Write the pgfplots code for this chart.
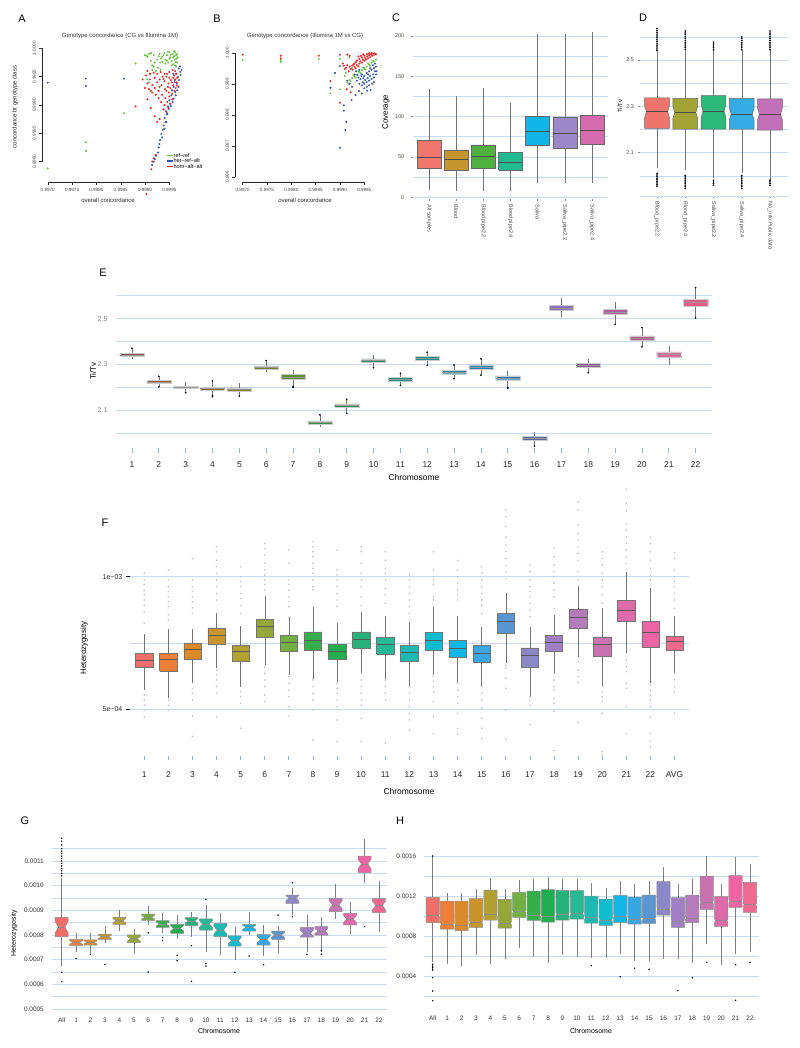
\documentclass[border=0pt]{standalone}
\usepackage{fontspec}
\setmainfont{Liberation Sans}
\usepackage{pgfplots}
\pgfplotsset{compat=1.18}
\newcommand\fs[1]{\fontsize{#1}{#1}\selectfont}
% ---------- colours ----------
\definecolor{gridc}{HTML}{C9DBEF}
\definecolor{xtc}{HTML}{8AB4E0}
\definecolor{gA}{HTML}{66C23C}
\definecolor{bA}{HTML}{3353B5}
\definecolor{rA}{HTML}{EE2424}
\definecolor{cc1}{HTML}{F0766E}\definecolor{cc2}{HTML}{C59630}\definecolor{cc3}{HTML}{50B040}
\definecolor{cc4}{HTML}{22BB90}\definecolor{cc5}{HTML}{12B5E8}\definecolor{cc6}{HTML}{9A88C8}
\definecolor{cc7}{HTML}{D66BAE}
\definecolor{dd1}{HTML}{F0746E}\definecolor{dd2}{HTML}{A3A234}\definecolor{dd3}{HTML}{2DB87B}
\definecolor{dd4}{HTML}{35ACE5}\definecolor{dd5}{HTML}{C470B8}
\definecolor{e1}{HTML}{8E4B4B}\definecolor{e2}{HTML}{A25A32}\definecolor{e3}{HTML}{94672C}
\definecolor{e4}{HTML}{866D26}\definecolor{e5}{HTML}{807E24}\definecolor{e6}{HTML}{6E8024}
\definecolor{e7}{HTML}{5B8E30}\definecolor{e8}{HTML}{388E40}\definecolor{e9}{HTML}{288E50}
\definecolor{e10}{HTML}{238E68}\definecolor{e11}{HTML}{1C8E7C}\definecolor{e12}{HTML}{188E8C}
\definecolor{e13}{HTML}{1888A6}\definecolor{e14}{HTML}{1C83B2}\definecolor{e15}{HTML}{2277B2}
\definecolor{e16}{HTML}{5B6A9A}\definecolor{e17}{HTML}{8A72B8}\definecolor{e18}{HTML}{8B5A90}
\definecolor{e19}{HTML}{B25C9C}\definecolor{e20}{HTML}{C0508C}\definecolor{e21}{HTML}{E0649C}
\definecolor{e22}{HTML}{E65B85}
\definecolor{h0}{HTML}{EE6F6A}\definecolor{h1}{HTML}{EE7F3A}\definecolor{h2}{HTML}{DB8A2A}
\definecolor{h3}{HTML}{C9952B}\definecolor{h4}{HTML}{B3A033}\definecolor{h5}{HTML}{96A83A}
\definecolor{h6}{HTML}{72B043}\definecolor{h7}{HTML}{33B04A}\definecolor{h8}{HTML}{21AE4F}
\definecolor{h9}{HTML}{26B27A}\definecolor{h10}{HTML}{27B894}\definecolor{h11}{HTML}{1FB9B3}
\definecolor{h12}{HTML}{11BDCC}\definecolor{h13}{HTML}{12B7E6}\definecolor{h14}{HTML}{3AA7E2}
\definecolor{h15}{HTML}{5995D0}\definecolor{h16}{HTML}{8C87C6}\definecolor{h17}{HTML}{A07FC4}
\definecolor{h18}{HTML}{B57BBB}\definecolor{h19}{HTML}{C873B0}\definecolor{h20}{HTML}{DD6BAA}
\definecolor{h21}{HTML}{EC64A4}\definecolor{h22}{HTML}{EE6A8E}
% ---------- box macro: x, lower whisker, q1, median, q3, upper whisker, colour ----------
\newcommand\bhw{0.4}
\newcommand\nf{0}
\newcommand\nw{1}
\newcommand\wcol{black!60}
\newcommand\bcol{black!65}
\newcommand\mcol{black!70}
\newcommand\blw{0.5pt}
\newcommand\mlw{0.7pt}
\newcommand\bx[7]{%
  \pgfmathsetmacro\xl{#1-\bhw}%
  \pgfmathsetmacro\xr{#1+\bhw}%
  \pgfmathsetmacro\xnl{#1-\bhw*\nw}%
  \pgfmathsetmacro\xnr{#1+\bhw*\nw}%
  \pgfmathsetmacro\nlo{#4-\nf*(#5-#3)}%
  \pgfmathsetmacro\nhi{#4+\nf*(#5-#3)}%
  \edef\tmp{%
    \noexpand\addplot[draw=\wcol, line width=0.5pt] coordinates {(#1,#2) (#1,#3)};%
    \noexpand\addplot[draw=\wcol, line width=0.5pt] coordinates {(#1,#5) (#1,#6)};%
    \noexpand\addplot[fill=#7, draw=\bcol, line width=\blw] coordinates {(\xl,#3) (\xr,#3) (\xr,\nlo) (\xnr,#4) (\xr,\nhi) (\xr,#5) (\xl,#5) (\xl,\nhi) (\xnl,#4) (\xl,\nlo) (\xl,#3)};%
    \noexpand\addplot[draw=\mcol, line width=\mlw] coordinates {(\xnl,#4) (\xnr,#4)};%
  }\tmp}
\pgfplotsset{
  every axis/.append style={scale only axis, anchor=south west, axis line style={draw=none},
    xtick pos=bottom, ytick pos=left, tick align=outside, scaled ticks=false, minor tick length=0pt,
    major grid style={gridc, line width=0.7pt}, minor grid style={gridc, line width=0.6pt}},
  outl/.style={only marks, mark=*, mark size=0.55pt, gray!50},
  blk/.style={only marks, mark=*, mark size=0.6pt, black},
}
\begin{document}
\begin{tikzpicture}
\path[use as bounding box] (0,0) rectangle (800bp,-1048bp);

% ================= A =================
\begin{axis}[at={(41.9bp,-182bp)}, width=140.1bp, height=136.5bp,
  xmin=0.99688, xmax=0.99976, ymin=0.99764, ymax=1.00005, clip=false,
  xtick={0.997,0.9975,0.998,0.9985,0.999,0.9995}, xticklabels={0.9970,0.9975,0.9980,0.9985,0.9990,0.9995},
  ytick={0.998,0.9985,0.999,0.9995,1}, yticklabels={0.9980,0.9985,0.9990,0.9995,1.0000},
  major tick length=2.5bp, tick style={black!80, line width=0.4pt},
  tick label style={font=\fs{4.6}, text=black!75}, yticklabel style={rotate=90, anchor=south}]
\draw[black!85, line width=0.8pt] ({rel axis cs:0,0} |- {axis cs:0.997,0.998}) -- ({rel axis cs:0,0} |- {axis cs:0.997,1});
\draw[black!85, line width=0.5pt] ({axis cs:0.997,0.998} |- {rel axis cs:0,0}) -- ({axis cs:0.9995,0.998} |- {rel axis cs:0,0});
\addplot[only marks, mark=*, mark size=0.8pt, gA] coordinates {
(0.99930,0.99990)(0.99935,0.99985)(0.99940,0.99992)(0.99942,0.99980)(0.99945,0.99988)(0.99948,0.99975)(0.99950,0.99993)
(0.99952,0.99984)(0.99955,0.99978)(0.99957,0.99990)(0.99958,0.99972)(0.99960,0.99986)(0.99961,0.99980)(0.99962,0.99993)
(0.99963,0.99976)(0.99964,0.99988)(0.99965,0.99982)(0.99966,0.99990)(0.99955,0.99970)(0.99950,0.99982)(0.99945,0.99978)
(0.99938,0.99988)(0.99933,0.99982)(0.99928,0.99986)(0.99925,0.99980)(0.99920,0.99975)(0.99918,0.99988)(0.99915,0.99970)
(0.99912,0.99978)(0.99958,0.99984)(0.99962,0.99970)(0.99960,0.99995)(0.99953,0.99989)(0.99947,0.99994)(0.99942,0.99973)
(0.99936,0.99976)(0.99931,0.99975)(0.99966,0.99975)(0.99964,0.99968)(0.99967,0.99984)(0.99908,0.99990)(0.99903,0.99987)
(0.99700,0.99788)(0.997783,0.99834)(0.997783,0.99819)(0.998566,0.998855)(0.998805,0.999733)(0.998996,0.999881)
(0.999043,0.999454)(0.99911,0.99955)(0.99915,0.99962)(0.99918,0.99968)(0.99922,0.99960)(0.99927,0.99966)(0.99932,0.99962)
(0.99908,0.99940)(0.99905,0.99985)(0.99912,0.99992)};
\addplot[only marks, mark=*, mark size=0.8pt, bA] coordinates {
(0.99969,0.999644)(0.999724,0.999585)(0.999636,0.999555)(0.999677,0.999496)(0.999609,0.999437)(0.999656,0.999377)
(0.999588,0.999318)(0.999554,0.999259)(0.999622,0.999229)(0.99954,0.99917)(0.999588,0.99911)(0.9995,0.999081)
(0.99952,0.999021)(0.999472,0.998974)(0.999486,0.998932)(0.999432,0.998891)(0.999452,0.998832)(0.999404,0.998772)
(0.999418,0.998695)(0.999384,0.998636)(0.999363,0.998559)(0.999336,0.998488)(0.99935,0.998428)(0.999309,0.998381)
(0.999295,0.99831)(0.999282,0.99825)(0.999268,0.998161)(0.999227,0.998102)(0.9992,0.998043)(0.99918,0.998001)
(0.999145,0.997942)(0.99972,0.99968)(0.99975,0.99962)(0.99973,0.99953)(0.9997,0.99944)(0.99969,0.99932)(0.99966,0.99926)
(0.99963,0.99917)(0.99961,0.99940)(0.99958,0.99955)(0.99957,0.99905)(0.99953,0.99898)(0.99946,0.99885)(0.99944,0.99870)
(0.99940,0.99858)(0.99700,0.999395)(0.997783,0.999466)(0.997783,0.999336)(0.998566,0.999466)};
\addplot[only marks, mark=*, mark size=0.8pt, rA] coordinates {
(0.99945,0.99955)(0.99950,0.99948)(0.99955,0.99940)(0.99960,0.99952)(0.99962,0.99945)(0.99958,0.99935)(0.99952,0.99930)
(0.99948,0.99938)(0.99944,0.99925)(0.99940,0.99942)(0.99936,0.99950)(0.99930,0.99945)(0.99925,0.99940)(0.99920,0.99948)
(0.99915,0.99935)(0.99910,0.99945)(0.99905,0.99938)(0.99912,0.99925)(0.99920,0.99930)(0.99928,0.99925)(0.99935,0.99918)
(0.99942,0.99912)(0.99950,0.99915)(0.99956,0.99920)(0.99960,0.99925)(0.99963,0.99930)(0.99965,0.99940)(0.99964,0.99955)
(0.99962,0.99960)(0.99957,0.99962)(0.99950,0.99958)(0.99940,0.99955)(0.99932,0.99958)(0.99925,0.99955)(0.99918,0.99957)
(0.99910,0.99955)(0.99902,0.99952)(0.99946,0.99905)(0.99940,0.99900)(0.99948,0.99895)(0.99944,0.99888)(0.99938,0.99892)
(0.99952,0.99902)(0.99956,0.99910)(0.99933,0.99905)(0.99928,0.99912)(0.99922,0.99918)(0.99915,0.99922)(0.99908,0.99928)
(0.99900,0.99930)(0.99895,0.99945)(0.99958,0.99948)(0.99953,0.99944)(0.99947,0.99932)(0.99941,0.99928)(0.99934,0.99935)
(0.99938,0.99946)(0.99944,0.99950)(0.99930,0.99932)(0.99949,0.99922)(0.99966,0.99948)(0.99966,0.99934)
(0.998805,0.998974)(0.99913,0.997865)(0.99915,0.99800)(0.99918,0.99806)(0.99922,0.99812)(0.99903,0.99743)
(0.99905,0.99910)(0.99912,0.99895)(0.99920,0.99880)(0.99925,0.99870)(0.99930,0.99875)(0.99905,0.99960)};
\end{axis}

% ================= B =================
\begin{axis}[at={(234.9bp,-182bp)}, width=142bp, height=132.4bp,
  xmin=0.99684, xmax=0.99976, ymin=0.99583, ymax=1.0001, clip=false,
  xtick={0.997,0.9975,0.998,0.9985,0.999,0.9995}, xticklabels={0.9970,0.9975,0.9980,0.9985,0.9990,0.9995},
  ytick={0.996,0.997,0.998,0.999,1}, yticklabels={0.996,0.997,0.998,0.999,1.000},
  major tick length=2.5bp, tick style={black!80, line width=0.4pt},
  tick label style={font=\fs{4.6}, text=black!75}, yticklabel style={rotate=90, anchor=south}]
\draw[black!85, line width=0.8pt] ({rel axis cs:0,0} |- {axis cs:0.997,0.996}) -- ({rel axis cs:0,0} |- {axis cs:0.997,1});
\draw[black!85, line width=0.5pt] ({axis cs:0.997,0.998} |- {rel axis cs:0,0}) -- ({axis cs:0.9995,0.998} |- {rel axis cs:0,0});
\addplot[only marks, mark=*, mark size=0.8pt, gA] coordinates {
(0.99915,0.99905)(0.99920,0.99912)(0.99925,0.99918)(0.99930,0.99925)(0.99935,0.99930)(0.99940,0.99938)(0.99945,0.99944)
(0.99950,0.99950)(0.99955,0.99955)(0.99960,0.99962)(0.99965,0.99968)(0.99970,0.99972)(0.99974,0.99978)(0.99962,0.99958)
(0.99952,0.99946)(0.99942,0.99934)(0.99932,0.99920)(0.99922,0.99908)(0.99918,0.99900)(0.99968,0.99975)(0.99958,0.99965)
(0.99948,0.99952)(0.99938,0.99940)(0.99928,0.99928)
(0.99700,0.999763)(0.997783,0.999763)(0.997783,0.9997)(0.998566,0.999796)(0.998805,0.998688)(0.99900,0.998817)
(0.99900,0.99979)(0.99910,0.99925)(0.99912,0.99935)(0.99919,0.99985)(0.99925,0.99950)};
\addplot[only marks, mark=*, mark size=0.8pt, bA] coordinates {
(0.99945,0.99930)(0.99950,0.99925)(0.99955,0.99935)(0.99960,0.99940)(0.99965,0.99945)(0.99970,0.99950)(0.99974,0.99955)
(0.99972,0.99940)(0.99968,0.99930)(0.99962,0.99925)(0.99957,0.99918)(0.99952,0.99912)(0.99947,0.99905)(0.99942,0.99915)
(0.99938,0.99920)(0.99935,0.99910)(0.99940,0.99900)(0.99945,0.99895)(0.99950,0.99900)(0.99955,0.99905)(0.99960,0.99910)
(0.99965,0.99915)(0.99970,0.99920)(0.99974,0.99930)(0.99966,0.99900)(0.99960,0.99895)(0.99955,0.99890)(0.99950,0.99885)
(0.99962,0.99950)(0.99968,0.99960)(0.99972,0.99965)(0.99958,0.99930)(0.99948,0.99918)(0.99944,0.99925)(0.99936,0.99928)
(0.99930,0.99930)(0.99933,0.99940)(0.99940,0.99945)(0.99975,0.99940)(0.99970,0.99905)(0.99963,0.99880)(0.99956,0.99878)
(0.998805,0.998871)(0.99900,0.99957)(0.99908,0.9983)(0.99908,0.99813)(0.99913,0.997774)(0.99911,0.997505)(0.99900,0.996935)
(0.99924,0.998473)(0.99932,0.998634)(0.99939,0.99876)(0.99945,0.99868)(0.99920,0.99900)(0.99925,0.99890)(0.99915,0.99910)
(0.99890,0.99935)};
\addplot[only marks, mark=*, mark size=0.8pt, rA] coordinates {
(0.99918,0.99940)(0.99922,0.99948)(0.99926,0.99945)(0.99930,0.99955)(0.99932,0.99950)(0.99935,0.99960)(0.99938,0.99956)
(0.99940,0.99965)(0.99942,0.99972)(0.99945,0.99968)(0.99947,0.99978)(0.99950,0.99974)(0.99952,0.99983)(0.99954,0.99978)
(0.99956,0.99988)(0.99958,0.99982)(0.99960,0.99992)(0.99962,0.99986)(0.99964,0.99995)(0.99966,0.99990)(0.99968,0.99997)
(0.99970,0.99993)(0.99972,0.99998)(0.99974,0.99995)(0.99960,0.99998)(0.99955,0.99995)(0.99950,0.99990)(0.99945,0.99985)
(0.99940,0.99980)(0.99935,0.99975)(0.99930,0.99965)(0.99925,0.99958)(0.99920,0.99955)(0.99948,0.99995)(0.99965,0.99999)
(0.99943,0.99990)(0.99938,0.99988)(0.99933,0.99970)(0.99928,0.99962)(0.99913,0.99952)(0.99910,0.99948)(0.99908,0.99958)
(0.99915,0.99960)(0.99906,0.99965)
(0.99700,0.999935)(0.997783,0.999903)(0.997783,0.999817)(0.998566,0.999903)(0.998805,0.999086)(0.99900,0.998387)
(0.99900,0.999935)(0.99914,0.99882)(0.99922,0.99872)(0.99915,0.99994)(0.99920,0.99990)};
\end{axis}

% ================= C =================
\renewcommand\bhw{0.44}\renewcommand\nf{0}\renewcommand\nw{1}
\renewcommand\wcol{black!55}\renewcommand\bcol{black!60}\renewcommand\mcol{black!70}
\begin{axis}[at={(412.7bp,-198.9bp)}, width=195.6bp, height=169.4bp,
  xmin=0.4, xmax=7.6, ymin=-2, ymax=208,
  xtick={1,...,7}, xticklabels={All samples,Blood,Blood pipe2.2,Blood pipe2.4,Saliva,Saliva\_pipe2.2,Saliva\_pipe2.4},
  ytick={0,50,100,150,200}, yticklabels={0,50,100,150,200}, minor ytick={25,75,125,175},
  ymajorgrids, yminorgrids, major tick length=2bp, tick style={black!45, line width=0.5pt},
  tick label style={font=\fs{5.5}, text=black!70},
  xticklabel style={rotate=-90, anchor=west}, yticklabel style={xshift=-3bp}]
\bx{1}{9}{36}{49.6}{71}{134}{cc1}
\bx{2}{8}{34}{47}{58.7}{125.6}{cc2}
\bx{3}{8}{36}{50.4}{65}{135.5}{cc3}
\bx{4}{8}{34}{43.8}{55.8}{116.5}{cc4}
\bx{5}{18}{64}{81.8}{100.4}{203}{cc5}
\bx{6}{17.4}{60.7}{79.8}{99.6}{202.5}{cc6}
\bx{7}{18}{65.3}{83}{101.7}{205}{cc7}
\end{axis}

% ================= D =================
\renewcommand\bhw{0.44}\renewcommand\nf{0.2}\renewcommand\nw{0.85}
\begin{axis}[at={(639.5bp,-196.3bp)}, width=148bp, height=173.3bp,
  xmin=0.38, xmax=5.62, ymin=1.912, ymax=2.66,
  xtick={1,...,5}, xticklabels={Blood\_pipe2.2,Blood\_pipe2.4,Saliva\_pipe2.2,Saliva\_pipe2.4,No\_info Public data},
  ytick={2.1,2.3,2.5}, yticklabels={2.1,2.3,2.5}, minor ytick={2.0,2.2,2.4,2.6},
  ymajorgrids, yminorgrids, major tick length=2bp, tick style={black!45, line width=0.5pt},
  tick label style={font=\fs{5.5}, text=black!70},
  xticklabel style={rotate=-90, anchor=west}]
\draw[gridc, line width=0.7pt] (rel axis cs:0,0) -- (rel axis cs:1,0);
\bx{1}{2.032}{2.205}{2.277}{2.337}{2.536}{dd1}
\bx{2}{2.025}{2.202}{2.274}{2.335}{2.540}{dd2}
\bx{3}{1.989}{2.202}{2.280}{2.346}{2.543}{dd3}
\bx{4}{2.011}{2.202}{2.267}{2.335}{2.543}{dd4}
\bx{5}{1.982}{2.198}{2.267}{2.333}{2.543}{dd5}
\addplot[blk] coordinates {
(1,2.540)(1,2.548)(1,2.556)(1,2.564)(1,2.572)(1,2.580)(1,2.588)(1,2.596)(1,2.604)(1,2.612)(1,2.620)(1,2.628)(1,2.636)
(1,1.955)(1,1.962)(1,1.969)(1,1.976)(1,1.983)(1,1.990)(1,1.997)(1,2.004)(1,2.011)
(2,2.545)(2,2.553)(2,2.561)(2,2.569)(2,2.577)(2,2.585)(2,2.593)(2,2.601)(2,2.609)(2,2.617)(2,2.625)
(2,1.946)(2,1.953)(2,1.960)(2,1.967)(2,1.974)(2,1.981)(2,1.988)(2,1.995)(2,2.002)
(3,2.545)(3,2.553)(3,2.561)(3,2.569)(3,2.577)(3,1.960)(3,1.967)(3,1.974)(3,1.981)
(4,2.545)(4,2.553)(4,2.561)(4,2.569)(4,2.577)(4,2.585)(4,2.593)(4,2.600)
(4,1.946)(4,1.953)(4,1.960)(4,1.967)(4,1.974)(4,1.981)(4,1.988)(4,1.995)(4,2.002)
(5,2.545)(5,2.553)(5,2.561)(5,2.569)(5,2.577)(5,2.585)(5,2.593)(5,2.601)(5,2.609)(5,2.617)(5,2.625)
(5,1.960)(5,1.967)(5,1.974)(5,1.981)};
\end{axis}

% ================= E =================
\renewcommand\bhw{0.45}\renewcommand\nf{0}\renewcommand\nw{1}
\renewcommand\wcol{black!55}\renewcommand\bcol{black!20}\renewcommand\mcol{black!40}\renewcommand\blw{0.3pt}\renewcommand\mlw{0.35pt}
\begin{axis}[at={(115.9bp,-448.3bp)}, width=595.8bp, height=163.2bp,
  xmin=0.4, xmax=22.6, ymin=1.935, ymax=2.646,
  xtick={1,...,22}, xticklabels={1,2,3,4,5,6,7,8,9,10,11,12,13,14,15,16,17,18,19,20,21,22},
  ytick={2.1,2.3,2.5}, yticklabels={2.1,2.3,2.5}, minor ytick={2.0,2.2,2.4,2.6},
  ymajorgrids, yminorgrids, major tick length=5bp,
  xtick style={draw=xtc, line width=0.8pt}, ytick style={draw=none},
  xticklabel style={font=\fs{8.5}, text=black!85, yshift=-5bp}, yticklabel style={font=\fs{7}, text=black!50}]
\bx{1}{2.323}{2.335}{2.342}{2.349}{2.367}{e1}
\bx{2}{2.203}{2.218}{2.225}{2.231}{2.249}{e2}
\bx{3}{2.177}{2.195}{2.200}{2.206}{2.222}{e3}
\bx{4}{2.159}{2.189}{2.196}{2.202}{2.227}{e4}
\bx{5}{2.162}{2.185}{2.191}{2.198}{2.220}{e5}
\bx{6}{2.267}{2.280}{2.287}{2.294}{2.316}{e6}
\bx{7}{2.205}{2.238}{2.246}{2.256}{2.277}{e7}
\bx{8}{2.026}{2.041}{2.048}{2.055}{2.081}{e8}
\bx{9}{2.087}{2.115}{2.122}{2.129}{2.149}{e9}
\bx{10}{2.286}{2.311}{2.317}{2.325}{2.342}{e10}
\bx{11}{2.209}{2.228}{2.235}{2.243}{2.262}{e11}
\bx{12}{2.297}{2.320}{2.328}{2.336}{2.354}{e12}
\bx{13}{2.238}{2.260}{2.268}{2.276}{2.299}{e13}
\bx{14}{2.254}{2.281}{2.290}{2.298}{2.325}{e14}
\bx{15}{2.197}{2.234}{2.242}{2.251}{2.272}{e15}
\bx{16}{1.945}{1.972}{1.980}{1.988}{2.007}{e16}
\bx{17}{2.507}{2.535}{2.546}{2.557}{2.590}{e17}
\bx{18}{2.264}{2.289}{2.297}{2.305}{2.326}{e18}
\bx{19}{2.475}{2.519}{2.530}{2.541}{2.572}{e19}
\bx{20}{2.377}{2.407}{2.416}{2.425}{2.461}{e20}
\bx{21}{2.300}{2.333}{2.345}{2.355}{2.381}{e21}
\bx{22}{2.503}{2.554}{2.570}{2.584}{2.635}{e22}
\addplot[blk] coordinates {(1,2.371)(2,2.249)(2,2.203)(3,2.177)(4,2.228)(4,2.160)(4,2.165)(5,2.162)(6,2.317)
(7,2.200)(7,2.205)(8,2.081)(9,2.149)(9,2.087)(10,2.286)(11,2.262)(11,2.209)(12,2.354)(12,2.297)(13,2.298)
(13,2.238)(14,2.325)(14,2.254)(15,2.197)(15,2.200)(16,1.945)(18,2.264)(19,2.475)(20,2.461)(20,2.377)(22,2.635)(22,2.503)};
\end{axis}

% ================= F =================
\renewcommand\bhw{0.36}\renewcommand\nf{0}\renewcommand\nw{1}
\renewcommand\wcol{black!55}\renewcommand\bcol{black!55}\renewcommand\mcol{black!65}\renewcommand\blw{0.5pt}\renewcommand\mlw{0.7pt}
\begin{axis}[at={(129.8bp,-756.4bp)}, width=559.2bp, height=268.2bp, ymode=log,
  xmin=0.4, xmax=23.6, ymin=3.9, ymax=15.9,
  xtick={1,...,23}, xticklabels={1,2,3,4,5,6,7,8,9,10,11,12,13,14,15,16,17,18,19,20,21,22,AVG},
  ytick={5,10}, yticklabels={5e−04,1e−03},
  ymajorgrids, major tick length=4bp,
  xtick style={draw=xtc, line width=0.8pt}, ytick style={draw=black, line width=0.9pt},
  xticklabel style={font=\fs{8.5}, text=black!85, yshift=-8bp}, yticklabel style={font=\fs{7}, text=black!85}]
\draw[gridc, line width=0.6pt] ({rel axis cs:0,0} |- {axis cs:1,7.071}) -- ({rel axis cs:1,0} |- {axis cs:1,7.071});
\addplot[outl] coordinates {
(1,10.18)(1,9.83)(1,9.6)(1,9.3)(1,9.1)(1,8.85)(1,8.6)(1,8.3)(1,7.83)(1,5.38)(1,5.24)(1,5.1)(1,4.97)(1,4.79)
(2,10.36)(2,9.83)(2,9.49)(2,9.25)(2,9.0)(2,8.77)(2,8.55)(2,8.2)(2,7.97)(2,5.24)(2,5.1)(2,4.97)
(3,11.0)(3,9.83)(3,9.49)(3,9.25)(3,9.0)(3,8.77)(3,8.5)(3,8.25)(3,5.57)(3,5.43)(3,5.24)(3,4.82)(3,4.33)
(4,11.7)(4,11.4)(4,10.9)(4,10.53)(4,10.18)(4,9.83)(4,9.49)(4,9.16)(4,8.85)(4,6.13)(4,5.98)(4,5.82)(4,5.62)(4,5.43)(4,4.8)
(5,10.53)(5,10.0)(5,9.74)(5,9.49)(5,9.16)(5,8.93)(5,8.6)(5,8.25)(5,5.47)(5,5.33)(5,5.15)(5,4.52)
(6,11.9)(6,11.6)(6,11.2)(6,10.72)(6,10.36)(6,10.09)(6,9.83)(6,9.6)(6,9.33)(6,6.24)(6,6.03)(6,5.82)(6,5.62)(6,5.38)(6,5.2)
(7,11.5)(7,10.72)(7,9.83)(7,9.6)(7,9.33)(7,9.0)(7,8.77)(7,8.55)(7,5.93)(7,5.72)(7,5.52)(7,5.33)(7,5.06)(7,4.82)
(8,12.0)(8,11.7)(8,11.4)(8,11.1)(8,10.72)(8,10.45)(8,10.18)(8,9.83)(8,9.49)(8,9.33)(8,5.82)(8,5.62)(8,5.43)(8,5.24)(8,4.97)(8,4.25)
(9,11.5)(9,10.36)(9,10.09)(9,9.83)(9,9.49)(9,9.16)(9,8.85)(9,8.55)(9,5.72)(9,5.57)(9,5.43)(9,5.24)(9,5.06)(9,4.72)(9,4.22)
(10,11.7)(10,11.4)(10,10.72)(10,10.18)(10,9.83)(10,9.49)(10,9.0)(10,8.6)(10,6.03)(10,5.82)(10,5.62)(10,5.43)(10,5.24)(10,5.1)(10,4.76)(10,4.22)
(11,11.4)(11,10.9)(11,10.45)(11,10.18)(11,9.83)(11,9.4)(11,9.1)(11,8.7)(11,5.82)(11,5.62)(11,5.43)(11,5.24)(11,4.18)
(12,10.09)(12,9.83)(12,9.49)(12,9.16)(12,8.85)(12,8.55)(12,8.25)(12,7.97)(12,5.62)(12,5.43)(12,5.24)(12,5.06)(12,4.89)(12,4.72)(12,4.48)(12,3.96)
(13,11.4)(13,10.36)(13,10.0)(13,9.83)(13,9.6)(13,9.0)(13,8.85)(13,5.93)(13,5.78)(13,5.62)(13,5.47)(13,5.2)(13,4.8)(13,4.40)
(14,10.9)(14,10.36)(14,10.0)(14,9.66)(14,9.33)(14,9.1)(14,8.85)(14,5.72)(14,5.52)(14,5.33)(14,5.15)(14,4.89)(14,4.52)(14,4.38)
(15,10.53)(15,10.18)(15,9.83)(15,9.49)(15,9.16)(15,8.85)(15,8.6)(15,8.25)(15,5.62)(15,5.43)(15,5.24)(15,5.02)(15,4.76)(15,4.52)(15,4.28)
(16,14.18)(16,13.7)(16,13.0)(16,12.3)(16,11.8)(16,11.4)(16,11.0)(16,10.6)(16,10.27)(16,9.9)(16,6.29)(16,6.19)(16,5.87)(16,5.57)(16,4.97)(16,4.27)
(17,10.63)(17,10.27)(17,9.83)(17,9.49)(17,9.25)(17,9.0)(17,8.7)(17,8.4)(17,8.11)(17,5.33)(17,5.24)(17,5.1)(17,4.61)
(18,11.6)(18,11.1)(18,10.63)(18,10.27)(18,10.0)(18,9.66)(18,9.33)(18,9.0)(18,8.47)(18,6.03)(18,5.82)(18,5.62)(18,5.52)(18,5.29)(18,5.15)(18,4.94)(18,4.02)
(19,14.8)(19,14.18)(19,13.1)(19,12.55)(19,12.12)(19,11.7)(19,11.3)(19,10.9)(19,10.27)(19,9.83)(19,6.41)(19,6.13)(19,5.93)(19,5.74)(19,4.66)
(20,11.4)(20,11.0)(20,10.63)(20,10.18)(20,9.83)(20,9.49)(20,9.1)(20,8.7)(20,5.62)(20,5.47)(20,5.33)(20,5.2)(20,4.89)(20,4.0)(20,3.93)
(21,15.8)(21,14.7)(21,14.1)(21,13.2)(21,12.77)(21,12.3)(21,11.9)(21,11.5)(21,11.1)(21,10.72)(21,6.46)(21,6.24)(21,6.08)(21,5.72)(21,5.57)(21,5.06)(21,4.40)
(22,12.3)(22,11.9)(22,11.4)(22,10.9)(22,10.45)(22,10.09)(22,9.83)(22,5.67)(22,5.52)(22,5.38)(22,5.24)(22,5.06)(22,4.8)(22,4.40)(22,4.22)(22,4.10)
(23,11.35)(23,11.0)(23,10.36)(23,10.0)(23,9.74)(23,9.49)(23,9.16)(23,8.85)(23,8.47)(23,6.03)(23,5.82)(23,5.62)(23,5.47)(23,4.89)};
\bx{1}{5.52}{6.21}{6.46}{6.68}{7.41}{h0}
\bx{2}{5.29}{6.10}{6.49}{6.69}{7.60}{h1}
\bx{3}{5.72}{6.48}{6.83}{7.05}{7.59}{h2}
\bx{4}{6.19}{7.02}{7.37}{7.63}{8.25}{h3}
\bx{5}{5.62}{6.43}{6.75}{6.99}{7.72}{h4}
\bx{6}{6.29}{7.27}{7.72}{8.00}{9.05}{h5}
\bx{7}{5.98}{6.77}{7.09}{7.34}{8.11}{h6}
\bx{8}{5.84}{6.81}{7.18}{7.49}{8.54}{h7}
\bx{9}{5.75}{6.48}{6.77}{7.02}{7.83}{h8}
\bx{10}{6.05}{6.87}{7.20}{7.49}{8.33}{h9}
\bx{11}{5.84}{6.67}{7.01}{7.28}{8.14}{h10}
\bx{12}{5.62}{6.41}{6.74}{6.99}{7.87}{h11}
\bx{13}{5.98}{6.81}{7.18}{7.46}{8.51}{h12}
\bx{14}{5.72}{6.54}{6.88}{7.17}{8.15}{h13}
\bx{15}{5.64}{6.38}{6.70}{6.98}{7.70}{h14}
\bx{16}{6.37}{7.43}{7.90}{8.25}{9.20}{h15}
\bx{17}{5.33}{6.22}{6.61}{6.89}{7.67}{h16}
\bx{18}{6.03}{6.77}{7.09}{7.34}{8.18}{h17}
\bx{19}{6.58}{7.63}{8.08}{8.43}{9.52}{h18}
\bx{20}{5.64}{6.58}{7.01}{7.30}{8.50}{h19}
\bx{21}{6.69}{7.90}{8.37}{8.85}{10.25}{h20}
\bx{22}{5.74}{6.90}{7.46}{7.90}{9.41}{h21}
\bx{23}{6.05}{6.79}{7.12}{7.33}{8.15}{h22}
\end{axis}

% ================= G =================
\renewcommand\bhw{0.45}\renewcommand\nf{0.3}\renewcommand\nw{0.5}
\renewcommand\wcol{black!50}\renewcommand\bcol{black!45}\renewcommand\mcol{black!45}
\begin{axis}[at={(51.6bp,-1012bp)}, width=335.3bp, height=175.7bp,
  xmin=-0.7, xmax=22.55, ymin=4.88, ymax=12.0,
  xtick={0,...,22}, xticklabels={All,1,2,3,4,5,6,7,8,9,10,11,12,13,14,15,16,17,18,19,20,21,22},
  ytick={5,6,7,8,9,10,11}, yticklabels={0.0005,0.0006,0.0007,0.0008,0.0009,0.0010,0.0011},
  minor ytick={5.5,6.5,7.5,8.5,9.5,10.5,11.5},
  ymajorgrids, yminorgrids, tick style={draw=none},
  tick label style={font=\fs{6.5}, text=black!80}, xticklabel style={yshift=2bp}]
\bx{0}{6.76}{7.93}{8.32}{8.72}{10.3}{h0}
\bx{1}{7.32}{7.57}{7.70}{7.82}{8.09}{h1}
\bx{2}{7.26}{7.59}{7.70}{7.80}{8.09}{h2}
\bx{3}{7.66}{7.82}{7.93}{8.04}{8.38}{h3}
\bx{4}{8.18}{8.43}{8.58}{8.72}{9.01}{h4}
\bx{5}{7.28}{7.69}{7.85}{8.01}{8.23}{h5}
\bx{6}{8.41}{8.59}{8.72}{8.85}{9.18}{h6}
\bx{7}{8.07}{8.31}{8.45}{8.58}{8.88}{h7}
\bx{8}{7.84}{8.07}{8.27}{8.43}{8.81}{h8}
\bx{9}{7.93}{8.38}{8.57}{8.70}{8.95}{h9}
\bx{10}{7.32}{8.20}{8.45}{8.65}{9.22}{h10}
\bx{11}{7.19}{7.93}{8.20}{8.47}{8.88}{h11}
\bx{12}{6.99}{7.55}{7.77}{7.97}{8.34}{h12}
\bx{13}{8.00}{8.16}{8.31}{8.43}{8.92}{h13}
\bx{14}{7.15}{7.59}{7.82}{8.03}{8.41}{h14}
\bx{15}{7.26}{7.82}{8.00}{8.16}{8.38}{h15}
\bx{16}{8.81}{9.28}{9.49}{9.62}{9.89}{h16}
\bx{17}{7.32}{7.91}{8.07}{8.31}{8.81}{h17}
\bx{18}{7.32}{8.00}{8.16}{8.34}{8.74}{h18}
\bx{19}{8.65}{8.95}{9.22}{9.49}{10.07}{h19}
\bx{20}{8.03}{8.41}{8.65}{8.88}{9.35}{h20}
\bx{21}{10.12}{10.53}{10.88}{11.20}{11.88}{h21}
\bx{22}{8.14}{8.91}{9.20}{9.49}{10.19}{h22}
\addplot[blk, mark size=0.5pt] coordinates {(0,10.4)(0,10.5)(0,10.6)(0,10.7)(0,10.8)(0,10.9)(0,11.0)(0,11.1)(0,11.2)
(0,11.3)(0,11.4)(0,11.5)(0,11.65)(0,11.8)(0,11.92)(0,6.49)(0,6.11)(1,7.05)(2,7.22)(3,6.80)(6,8.09)(6,6.50)(7,7.90)(7,7.77)
(8,7.18)(8,6.96)(9,7.57)(9,6.12)(10,9.45)(10,6.85)(10,6.74)(12,6.49)(13,7.15)(14,6.80)(15,8.81)(16,10.12)(16,8.74)
(17,7.22)(18,7.38)(18,7.22)(21,8.34)};
\end{axis}

% ================= H =================
\renewcommand\bhw{0.46}\renewcommand\nf{0.06}\renewcommand\nw{0.88}
\begin{axis}[at={(424.05bp,-1004bp)}, width=334.6bp, height=153bp,
  xmin=-0.6, xmax=22.6, ymin=1.2, ymax=16.5,
  xtick={0,...,22}, xticklabels={All,1,2,3,4,5,6,7,8,9,10,11,12,13,14,15,16,17,18,19,20,21,22},
  ytick={4,8,12,16}, yticklabels={0.0004,0.0008,0.0012,0.0016}, minor ytick={2,6,10,14},
  ymajorgrids, yminorgrids, tick style={draw=none},
  tick label style={font=\fs{6.5}, text=black!80}, xticklabel style={yshift=-4bp}]
\bx{0}{5.37}{9.33}{10.03}{11.87}{16.0}{h0}
\bx{1}{5.2}{8.70}{9.17}{11.5}{12.33}{h1}
\bx{2}{5.03}{8.53}{9.03}{11.5}{12.33}{h2}
\bx{3}{6.1}{8.87}{9.37}{11.73}{12.67}{h3}
\bx{4}{5.2}{9.6}{10.17}{12.6}{13.83}{h4}
\bx{5}{5.67}{8.8}{9.27}{11.67}{12.67}{h5}
\bx{6}{6.77}{9.87}{10.43}{12.37}{13.6}{h6}
\bx{7}{5.93}{9.57}{10.1}{12.5}{13.67}{h7}
\bx{8}{5.27}{9.4}{9.93}{12.63}{13.87}{h8}
\bx{9}{6.1}{9.6}{10.17}{12.57}{13.73}{h9}
\bx{10}{5.93}{9.7}{10.27}{12.53}{13.67}{h10}
\bx{11}{5.8}{9.3}{9.87}{12.0}{13.27}{h11}
\bx{12}{5.77}{9.07}{9.6}{11.7}{12.77}{h12}
\bx{13}{6.2}{9.33}{10.0}{12.07}{13.53}{h13}
\bx{14}{5.5}{9.2}{9.7}{11.9}{13.2}{h14}
\bx{15}{5.53}{9.27}{9.73}{12.1}{13.53}{h15}
\bx{16}{5.67}{10.1}{10.7}{13.43}{14.93}{h16}
\bx{17}{5.67}{8.87}{9.47}{11.83}{13.17}{h17}
\bx{18}{5.27}{9.33}{9.8}{12.1}{13.7}{h18}
\bx{19}{7.2}{10.67}{11.37}{14.0}{16.0}{h19}
\bx{20}{5.1}{8.97}{9.53}{11.93}{13.2}{h20}
\bx{21}{6.2}{10.87}{11.5}{14.03}{15.87}{h21}
\bx{22}{6.43}{10.37}{11.13}{13.37}{15.17}{h22}
\addplot[blk, mark size=0.5pt] coordinates {(0,16.0)(0,5.17)(0,5.0)(0,4.85)(0,4.7)(0,4.6)(0,3.83)(0,2.5)(0,1.53)
(11,5.03)(13,3.93)(14,4.77)(15,4.67)(17,2.53)(18,3.83)(19,5.37)(21,5.13)(21,1.57)(22,5.37)};
\end{axis}

% ================= text outside the axes =================
\node[font=\fs{11}] at (22bp,-19bp) {A};
\node[font=\fs{11}] at (217bp,-19bp) {B};
\node[font=\fs{11}] at (396bp,-18bp) {C};
\node[font=\fs{11}] at (643bp,-18bp) {D};
\node[font=\fs{11}] at (103bp,-273bp) {E};
\node[font=\fs{11}] at (105bp,-523bp) {F};
\node[font=\fs{11}] at (25bp,-821bp) {G};
\node[font=\fs{11}] at (400bp,-821bp) {H};
\node[font=\fs{6}, text=black!80] at (120bp,-36bp) {Genotype concordance (CG vs Illumina 1M)};
\node[font=\fs{6}, text=black!80] at (305bp,-36bp) {Genotype concordance (Illumina 1M vs CG)};
\node[font=\fs{6}, rotate=90, text=black!85] at (15bp,-107bp) {concordance bt genotype class};
\node[font=\fs{6}, text=black!85] at (108bp,-200bp) {overall concordance};
\node[font=\fs{6}, text=black!85] at (305bp,-200bp) {overall concordance};
\draw[gA, line width=1.2pt] (167bp,-155.5bp) -- (172.5bp,-155.5bp);
\draw[bA, line width=1.2pt] (167bp,-161bp) -- (172.5bp,-161bp);
\draw[rA, line width=1.2pt] (167bp,-166.5bp) -- (172.5bp,-166.5bp);
\node[font=\fs{5.5}, anchor=west, inner sep=0pt] at (173.5bp,-155.5bp) {ref−ref};
\node[font=\fs{5.5}, anchor=west, inner sep=0pt] at (173.5bp,-161bp) {het−ref−alt};
\node[font=\fs{5.5}, anchor=west, inner sep=0pt] at (173.5bp,-166.5bp) {hom−alt−alt};
\node[font=\fs{8}, rotate=90] at (386bp,-112bp) {Coverage};
\node[font=\fs{6}, rotate=90] at (620bp,-106bp) {Ti/Tv};
\node[font=\fs{8}, rotate=90] at (93bp,-371bp) {Ti/Tv};
\node[font=\fs{8.5}] at (414bp,-477bp) {Chromosome};
\node[font=\fs{8}, rotate=90] at (84bp,-648bp) {Heterozygosity};
\node[font=\fs{8.5}] at (409bp,-791bp) {Chromosome};
\node[font=\fs{7}, rotate=90] at (14bp,-933bp) {Heterozygosity};
\node[font=\fs{7}] at (219bp,-1031bp) {Chromosome};
\node[font=\fs{7}] at (591bp,-1031bp) {Chromosome};
\end{tikzpicture}
\end{document}
